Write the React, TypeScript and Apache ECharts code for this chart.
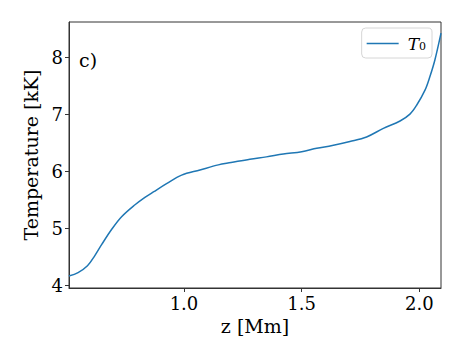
import React, { useEffect, useRef } from "react";
import * as echarts from "echarts";

const zValues = [0.511, 0.55, 0.59, 0.62, 0.65, 0.693, 0.735, 0.792, 0.834, 0.87, 0.926, 0.99, 1.068, 1.146, 1.2, 1.28, 1.35, 1.422, 1.5, 1.564, 1.63, 1.705, 1.776, 1.847, 1.918, 1.96, 1.989, 2.024, 2.045, 2.066, 2.092];
const tValues = [4.17, 4.23, 4.35, 4.52, 4.72, 4.99, 5.21, 5.42, 5.55, 5.645, 5.79, 5.94, 6.03, 6.12, 6.16, 6.22, 6.26, 6.31, 6.35, 6.41, 6.46, 6.53, 6.61, 6.76, 6.89, 7.01, 7.17, 7.43, 7.67, 7.96, 8.43];
const xTicks = [1.0, 1.5, 2.0];
const yTicks = [4, 5, 6, 7, 8];
const seriesName = "T0";

const FONT = "DejaVu Serif";

export default function App() {
  const ref = useRef<HTMLDivElement>(null);
  useEffect(() => {
    if (!ref.current) return;
    const chart = echarts.init(ref.current, null, { renderer: "svg" });
    chart.setOption({
      animation: false,
      backgroundColor: "#fff",
      grid: { left: 69, top: 22, width: 372, height: 266, show: true, borderColor: "#333", borderWidth: 1, backgroundColor: "transparent" },
      legend: {
        data: [seriesName],
        right: 31,
        top: 28,
        orient: "vertical",
        itemWidth: 32,
        itemHeight: 1.5,
        padding: [6, 6, 6, 5],
        borderColor: "#d6d6d6",
        borderWidth: 1,
        borderRadius: 4,
        icon: "rect",
        formatter: () => "{i|T}{s|0}",
        textStyle: {
          fontFamily: FONT,
          color: "#000",
          lineHeight: 17,
          rich: {
            i: { fontFamily: FONT, fontStyle: "italic", fontSize: 17, color: "#000", padding: [0, 0, 0, 4], lineHeight: 17 },
            s: { fontFamily: FONT, fontSize: 11, color: "#000", verticalAlign: "bottom", padding: [7, 0, 0, 0], lineHeight: 17 },
          },
        },
      },
      xAxis: {
        type: "value",
        min: 0.5115,
        max: 2.092,
        name: "z [Mm]",
        nameLocation: "middle",
        nameGap: 27,
        nameTextStyle: { fontFamily: FONT, fontSize: 19, color: "#000" },
        axisLine: { show: true, lineStyle: { color: "#333", width: 1 } },
        axisTick: { show: true, length: 4, lineStyle: { color: "#333" }, customValues: xTicks },
        axisLabel: { customValues: xTicks, formatter: (v: number) => v.toFixed(1), fontFamily: FONT, fontSize: 18, color: "#000", margin: 6 },
        splitLine: { show: false },
      },
      yAxis: {
        type: "value",
        min: 3.96,
        max: 8.626,
        name: "Temperature [kK]",
        nameLocation: "middle",
        nameGap: 22,
        nameTextStyle: { fontFamily: FONT, fontSize: 19, color: "#000" },
        axisLine: { show: true, lineStyle: { color: "#333", width: 1 } },
        axisTick: { show: true, length: 4, lineStyle: { color: "#333" }, customValues: yTicks },
        axisLabel: { customValues: yTicks, formatter: (v: number) => String(v), fontFamily: FONT, fontSize: 18, color: "#000", margin: 6 },
        splitLine: { show: false },
      },
      graphic: [
        { type: "text", left: 79, top: 50, style: { text: "c)", font: `19px '${FONT}'`, fill: "#000" } },
      ],
      series: [
        {
          name: seriesName,
          type: "line",
          data: zValues.map((z, i) => [z, tValues[i]]),
          showSymbol: false,
          smooth: 0.35,
          lineStyle: { color: "#1f77b4", width: 1.5 },
          itemStyle: { color: "#1f77b4" },
          clip: true,
        },
      ],
    });
    return () => chart.dispose();
  }, []);
  return <div ref={ref} style={{ width: 463, height: 354, position: "absolute", left: 0, top: 0 }} />;
}
